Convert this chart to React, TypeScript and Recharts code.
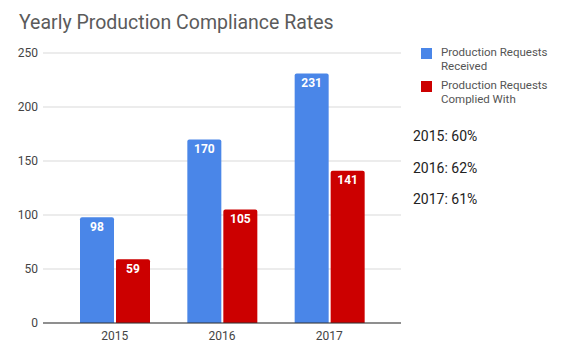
import { Bar, BarChart, CartesianGrid, LabelList, XAxis, YAxis } from "recharts";

const years = ["2015", "2016", "2017"];
const requestsReceived = [98, 170, 231];
const requestsComplied = [59, 105, 141];
const complianceLabels = ["2015: 60%", "2016: 62%", "2017: 61%"];
const yTicks = [0, 50, 100, 150, 200, 250];

const seriesConfig = [
  { key: "received", label: ["Production Requests", "Received"], color: "#4a86e8" },
  { key: "complied", label: ["Production Requests", "Complied With"], color: "#cc0000" },
];

const chartData = years.map((year, i) => ({
  year,
  received: requestsReceived[i],
  complied: requestsComplied[i],
}));

const font = "Roboto, 'Noto Sans', sans-serif";

function App(): JSX.Element {
  return (
    <div style={{ position: "absolute", left: 0, top: 0, width: 582, height: 358, background: "#fff", fontFamily: font }}>
      <div style={{ position: "absolute", left: 19, top: 11, fontSize: 19.5, lineHeight: "24px", color: "#5b5b5b", whiteSpace: "nowrap" }}>
        Yearly Production Compliance Rates
      </div>

      <BarChart
        width={582}
        height={358}
        data={chartData}
        margin={{ top: 53, right: 181, bottom: 5, left: 0 }}
        barGap={2}
        barSize={34}
      >
        <CartesianGrid stroke="#d9d9d9" vertical={false} />
        <XAxis
          dataKey="year"
          height={30}
          padding={{ left: 18, right: 18 }}
          tickLine={false}
          tickSize={6}
          tickMargin={2}
          axisLine={{ stroke: "#333" }}
          tick={{ fontSize: 12, fill: "#444", fontFamily: font }}
        />
        <YAxis
          width={43}
          domain={[0, 250]}
          ticks={yTicks}
          axisLine={false}
          tickLine={false}
          tickSize={5}
          tickMargin={0}
          tick={{ fontSize: 12, fill: "#444", fontFamily: font }}
        />
        {seriesConfig.map((s) => (
          <Bar key={s.key} dataKey={s.key} fill={s.color} radius={[2, 2, 0, 0]} isAnimationActive={false}>
            <LabelList
              dataKey={s.key}
              position="insideTop"
              offset={5}
              fill="#fff"
              style={{ fontSize: 12, fontWeight: 700, fontFamily: font }}
            />
          </Bar>
        ))}
      </BarChart>

      <div style={{ position: "absolute", left: 421, top: 46, width: 160 }}>
        {seriesConfig.map((s) => (
          <div key={s.key} style={{ display: "flex", alignItems: "flex-start", marginBottom: 6 }}>
            <div style={{ width: 11, height: 11, background: s.color, marginTop: 1.5, flexShrink: 0 }} />
            <div style={{ marginLeft: 9, fontSize: 11.5, lineHeight: "13.5px", color: "#555", whiteSpace: "nowrap" }}>
              <div>{s.label[0]}</div>
              <div>{s.label[1]}</div>
            </div>
          </div>
        ))}
      </div>

      <div style={{ position: "absolute", left: 413, top: 126, fontSize: 14, color: "#222" }}>
        {complianceLabels.map((t) => (
          <div key={t} style={{ height: 31.5, lineHeight: "20px" }}>
            {t}
          </div>
        ))}
      </div>
    </div>
  );
}

export default App;
